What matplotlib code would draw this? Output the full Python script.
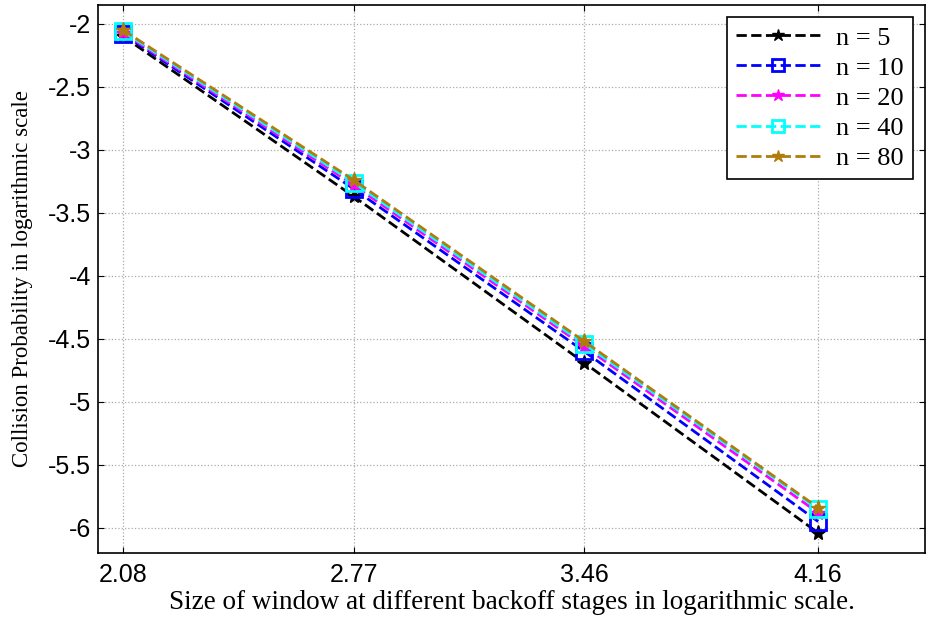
import numpy as np
import matplotlib
matplotlib.use('Agg')
import matplotlib.pyplot as plt

# 数据
x_vals = [2.08, 2.77, 3.46, 4.16]
x_ticks = ['2.08', '2.77', '3.46', '4.16']
y_ticks = [-2, -2.5, -3, -3.5, -4, -4.5, -5, -5.5, -6]
y_n5 = [-2.10, -3.37, -4.69, -6.04]
y_n10 = [-2.08, -3.31, -4.60, -5.95]
y_n20 = [-2.07, -3.28, -4.56, -5.88]
y_n40 = [-2.06, -3.26, -4.54, -5.85]
y_n80 = [-2.05, -3.24, -4.52, -5.84]
labels = ['n = 5', 'n = 10', 'n = 20', 'n = 40', 'n = 80']


def show_res():
    fig = plt.figure(figsize=(9.26, 6.2), dpi=100)
    ax = fig.add_axes([0.106, 0.108, 0.893, 0.884])

    series = [y_n5, y_n10, y_n20, y_n40, y_n80]
    colors = ['black', 'blue', 'magenta', 'cyan', '#b07c0c']
    markers = ['*', 's', '*', 's', '*']

    for ys, c, m, lab in zip(series, colors, markers, labels):
        if m == 's':
            ax.plot(x_vals, ys, '--', color=c, lw=2, marker=m, ms=11,
                    mfc='none', mec=c, mew=2, label=lab)
        else:
            ax.plot(x_vals, ys, '--', color=c, lw=2, marker=m, ms=11,
                    mfc=c, mec=c, label=lab)

    ax.set_xlim(2.005, 4.48)
    ax.set_ylim(-6.2, -1.85)
    ax.set_xticks(x_vals)
    ax.set_xticklabels(x_ticks)
    ax.set_yticks(y_ticks)
    ax.set_yticklabels(['%g' % v for v in y_ticks])

    ax.tick_params(direction='in', top=True, right=True, length=4,
                   labelsize=18, pad=5)
    ax.tick_params(axis='x', pad=7)
    for t in ax.get_xticklabels() + ax.get_yticklabels():
        t.set_family('Liberation Sans')

    ax.grid(True, linestyle=':', color='#aaaaaa', lw=0.9)
    for s in ax.spines.values():
        s.set_linewidth(1.2)

    ax.set_xlabel('Size of window at different backoff stages in logarithmic scale.',
                  family='Liberation Serif', fontsize=19.5, labelpad=2)
    ax.set_ylabel('Collision Probability in logarithmic scale',
                  family='Liberation Serif', fontsize=16.5, labelpad=11)

    leg = ax.legend(loc='upper right', prop={'family': 'Liberation Serif', 'size': 19},
                    fancybox=False, edgecolor='black', framealpha=1,
                    handlelength=3.2, handletextpad=0.6, borderaxespad=0.45,
                    labelspacing=0.25, borderpad=0.35, markerscale=0.85)
    leg.get_frame().set_linewidth(1.2)

    fig.savefig('out.png', dpi=100)


if __name__ == '__main__':
    show_res()
